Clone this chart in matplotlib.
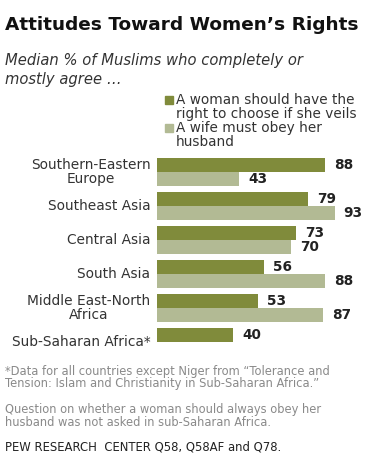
import matplotlib
matplotlib.use("Agg")
import matplotlib.pyplot as plt
from matplotlib.patches import Rectangle

categories = ["Southern-Eastern\nEurope", "Southeast Asia", "Central Asia",
              "South Asia", "Middle East-North\nAfrica", "Sub-Saharan Africa*"]
veil = [88, 79, 73, 56, 53, 40]
obey = [43, 93, 70, 88, 87, None]
series_names = ["A woman should have the\nright to choose if she veils",
                "A wife must obey her\nhusband"]
dark = "#808b3b"
light = "#b2ba94"

W, H = 388, 467
fig = plt.figure(figsize=(W / 100, H / 100), dpi=100)
plt.rcParams['font.family'] = ['DejaVu Sans']

def fx(px):
    return px / W

def fy(py):
    return 1 - py / H

# axes: x from 157 px, 1 unit = 1.91 px; y from 154.5 to 359 px
ax_left, ax_w = 157, 191
ax_top, ax_bot = 154.5, 359.3
ax = fig.add_axes([fx(ax_left), fy(ax_bot), ax_w / W, (ax_bot - ax_top) / H])
ax.set_xlim(0, 100)
ax.set_ylim(len(categories) - 0.5, -0.5)
ax.axis("off")

h = 0.41
for i, (v, o) in enumerate(zip(veil, obey)):
    ax.barh(i - h / 2, v, height=h, color=dark, linewidth=0)
    ax.text(v + 4.7, i - h / 2, str(v), va="center", ha="left",
            fontsize=9.8, fontweight="bold", color="#222222")
    if o is not None:
        ax.barh(i + h / 2, o, height=h, color=light, linewidth=0)
        ax.text(o + 4.7, i + h / 2, str(o), va="center", ha="left",
                fontsize=9.8, fontweight="bold", color="#222222")
    ax.text(-3.5, i, categories[i], ha="right", va="center", multialignment="center",
            fontsize=9.9, color="#333333", clip_on=False, linespacing=1.0)

# Title and subtitle
fig.text(fx(5), fy(25), "Attitudes Toward Women\u2019s Rights", fontsize=13.3,
         fontweight="bold", color="#111111", va="center", ha="left")
fig.text(fx(5), fy(70), "Median % of Muslims who completely or\nmostly agree \u2026",
         fontsize=10.6, style="italic", color="#333333", va="center", ha="left",
         linespacing=1.4)

# Legend
for k, (name, col, yc) in enumerate(zip(series_names, [dark, light], [107, 135])):
    fig.patches.append(Rectangle((fx(165), fy(yc - 3)), 8 / W, 8 / H, color=col,
                                 transform=fig.transFigure, figure=fig))
    fig.text(fx(176), fy(yc), name, fontsize=9.8, color="#333333", va="center",
             ha="left", linespacing=0.92)

# Footnotes
fig.text(fx(5), fy(377.5), "*Data for all countries except Niger from \u201cTolerance and\n"
         "Tension: Islam and Christianity in Sub-Saharan Africa.\u201d",
         fontsize=8.3, color="#8a8a8a", va="center", ha="left", linespacing=1.0)
fig.text(fx(5), fy(416.5), "Question on whether a woman should always obey her\n"
         "husband was not asked in sub-Saharan Africa.",
         fontsize=8.3, color="#8a8a8a", va="center", ha="left", linespacing=1.0)
fig.text(fx(5), fy(447), "PEW RESEARCH  CENTER Q58, Q58AF and Q78.",
         fontsize=8.4, color="#222222", va="center", ha="left")

fig.savefig("out.png", dpi=100)
